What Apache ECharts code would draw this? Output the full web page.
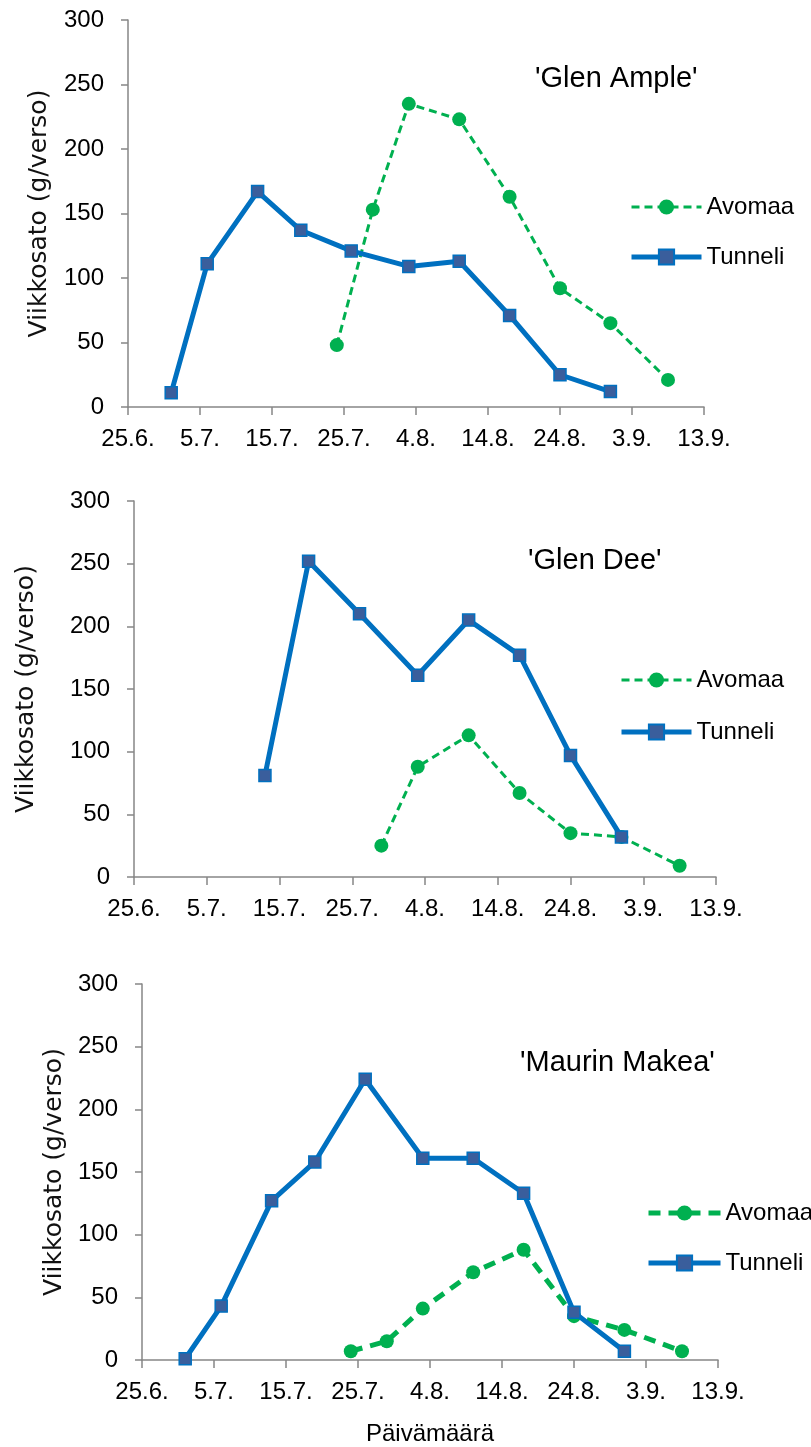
<!DOCTYPE html>
<html>
<head>
<meta charset="utf-8">
<script src="https://cdn.jsdelivr.net/npm/echarts@6/dist/echarts.min.js"></script>
<style>
html,body{margin:0;padding:0;background:#fff;}
#chart{width:811px;height:1447px;}
</style>
</head>
<body>
<div id="chart"></div>
<script>
// x values are days after 25.6.
const tickLabels = ['25.6.', '5.7.', '15.7.', '25.7.', '4.8.', '14.8.', '24.8.', '3.9.', '13.9.'];
const cultivars = ["'Glen Ample'", "'Glen Dee'", "'Maurin Makea'"];
const seriesNames = ['Avomaa', 'Tunneli'];

const avomaaDays1 = [29, 34, 39, 46, 53, 60, 67, 75];
const avomaa1 = [48, 153, 235, 223, 163, 92, 65, 21];
const tunneliDays1 = [6, 11, 18, 24, 31, 39, 46, 53, 60, 67];
const tunneli1 = [11, 111, 167, 137, 121, 109, 113, 71, 25, 12];

const avomaaDays2 = [34, 39, 46, 53, 60, 67, 75];
const avomaa2 = [25, 88, 113, 67, 35, 32, 9];
const tunneliDays2 = [18, 24, 31, 39, 46, 53, 60, 67];
const tunneli2 = [81, 252, 210, 161, 205, 177, 97, 32];

const avomaaDays3 = [29, 34, 39, 46, 53, 60, 67, 75];
const avomaa3 = [7, 15, 41, 70, 88, 35, 24, 7];
const tunneliDays3 = [6, 11, 18, 24, 31, 39, 46, 53, 60, 67];
const tunneli3 = [1, 43, 127, 158, 224, 161, 161, 133, 38, 7];

const FONT = "'Liberation Sans', Arial, sans-serif";
const NAMEFONT = "'DejaVu Sans', sans-serif";
const GREEN = '#00B050';
const BLUE = '#0070C0';
const SQUARE = '#3A5E9C';
const AXIS = '#868686';

function pairs(xs, ys) { return xs.map((x, i) => [x, ys[i]]); }

const grids = [
  { left: 128, right: 107, top: 20, height: 387 },
  { left: 134, right: 95, top: 501, height: 376 },
  { left: 142, right: 93, top: 984, height: 377 }
];
const yNameGaps = [76, 95, 75];
const titlesPos = [
  { left: 535, top: 64 },
  { left: 528, top: 546 },
  { left: 520, top: 1048 }
];
const legendPos = [
  { left: 629, top: 195, itemGap: 26, itemWidth: 70 },
  { left: 619, top: 668, itemGap: 28, itemWidth: 70 },
  { left: 646, top: 1201, itemGap: 26, itemWidth: 72 }
];
const avomaaWidth = [3, 3, 5];
const avomaaDash = [[8, 5], [8, 5], [12, 8]];

const data = [
  [pairs(avomaaDays1, avomaa1), pairs(tunneliDays1, tunneli1)],
  [pairs(avomaaDays2, avomaa2), pairs(tunneliDays2, tunneli2)],
  [pairs(avomaaDays3, avomaa3), pairs(tunneliDays3, tunneli3)]
];

const xAxes = [], yAxes = [], series = [], titles = [], legends = [];
for (let i = 0; i < 3; i++) {
  const suffix = i ? '\u200b'.repeat(i) : '';
  xAxes.push({
    type: 'value', gridIndex: i, min: 0, max: 80, interval: 10,
    axisLine: { show: true, lineStyle: { color: AXIS, width: 1.5 } },
    axisTick: { show: true, length: 8, lineStyle: { color: AXIS, width: 1.5 } },
    splitLine: { show: false },
    axisLabel: {
      color: '#000', fontSize: 24, fontFamily: FONT, margin: 20,
      formatter: v => tickLabels[Math.round(v / 10)]
    },
    name: i === 2 ? 'Päivämäärä' : '',
    nameLocation: 'middle', nameGap: 62,
    nameTextStyle: { color: '#000', fontSize: 24, fontFamily: FONT }
  });
  yAxes.push({
    type: 'value', gridIndex: i, min: 0, max: 300, interval: 50,
    axisLine: { show: true, lineStyle: { color: AXIS, width: 1.5 } },
    axisTick: { show: true, length: 7, lineStyle: { color: AXIS, width: 1.5 } },
    splitLine: { show: false },
    axisLabel: { color: '#000', fontSize: 24, fontFamily: FONT, margin: 24 },
    name: 'Viikkosato (g/verso)', nameLocation: 'middle', nameGap: yNameGaps[i],
    nameTextStyle: { color: '#111', fontSize: 25, fontFamily: NAMEFONT }
  });
  titles.push({
    text: cultivars[i], left: titlesPos[i].left, top: titlesPos[i].top, padding: 0,
    textStyle: { color: '#000', fontSize: 29, fontWeight: 'normal', fontFamily: FONT }
  });
  legends.push({
    orient: 'vertical', left: legendPos[i].left, top: legendPos[i].top, padding: 0,
    itemGap: legendPos[i].itemGap, itemWidth: legendPos[i].itemWidth, itemHeight: 19,
    data: [
      { name: seriesNames[0] + suffix,
        lineStyle: { width: avomaaWidth[i], type: avomaaDash[i], color: GREEN } },
      { name: seriesNames[1] + suffix,
        lineStyle: { width: 5, color: BLUE } }
    ],
    textStyle: { color: '#000', fontSize: 24, fontFamily: FONT, lineHeight: 24 },
    selectedMode: false
  });
  series.push({
    name: seriesNames[0] + suffix, type: 'line', xAxisIndex: i, yAxisIndex: i,
    data: data[i][0], symbol: 'circle', symbolSize: 14, z: 2,
    lineStyle: { color: GREEN, width: avomaaWidth[i], type: avomaaDash[i] },
    itemStyle: { color: GREEN, borderColor: GREEN, borderWidth: 0 },
    animation: false
  });
  series.push({
    name: seriesNames[1] + suffix, type: 'line', xAxisIndex: i, yAxisIndex: i,
    data: data[i][1], symbol: 'rect', symbolSize: 12, z: 3,
    lineStyle: { color: BLUE, width: 5 },
    itemStyle: { color: SQUARE, borderColor: BLUE, borderWidth: 1.5 },
    animation: false
  });
}

const chart = echarts.init(document.getElementById('chart'), null, { renderer: 'canvas' });
chart.setOption({
  backgroundColor: '#fff',
  animation: false,
  title: titles,
  legend: legends,
  grid: grids,
  xAxis: xAxes,
  yAxis: yAxes,
  series: series
});
</script>
</body>
</html>
